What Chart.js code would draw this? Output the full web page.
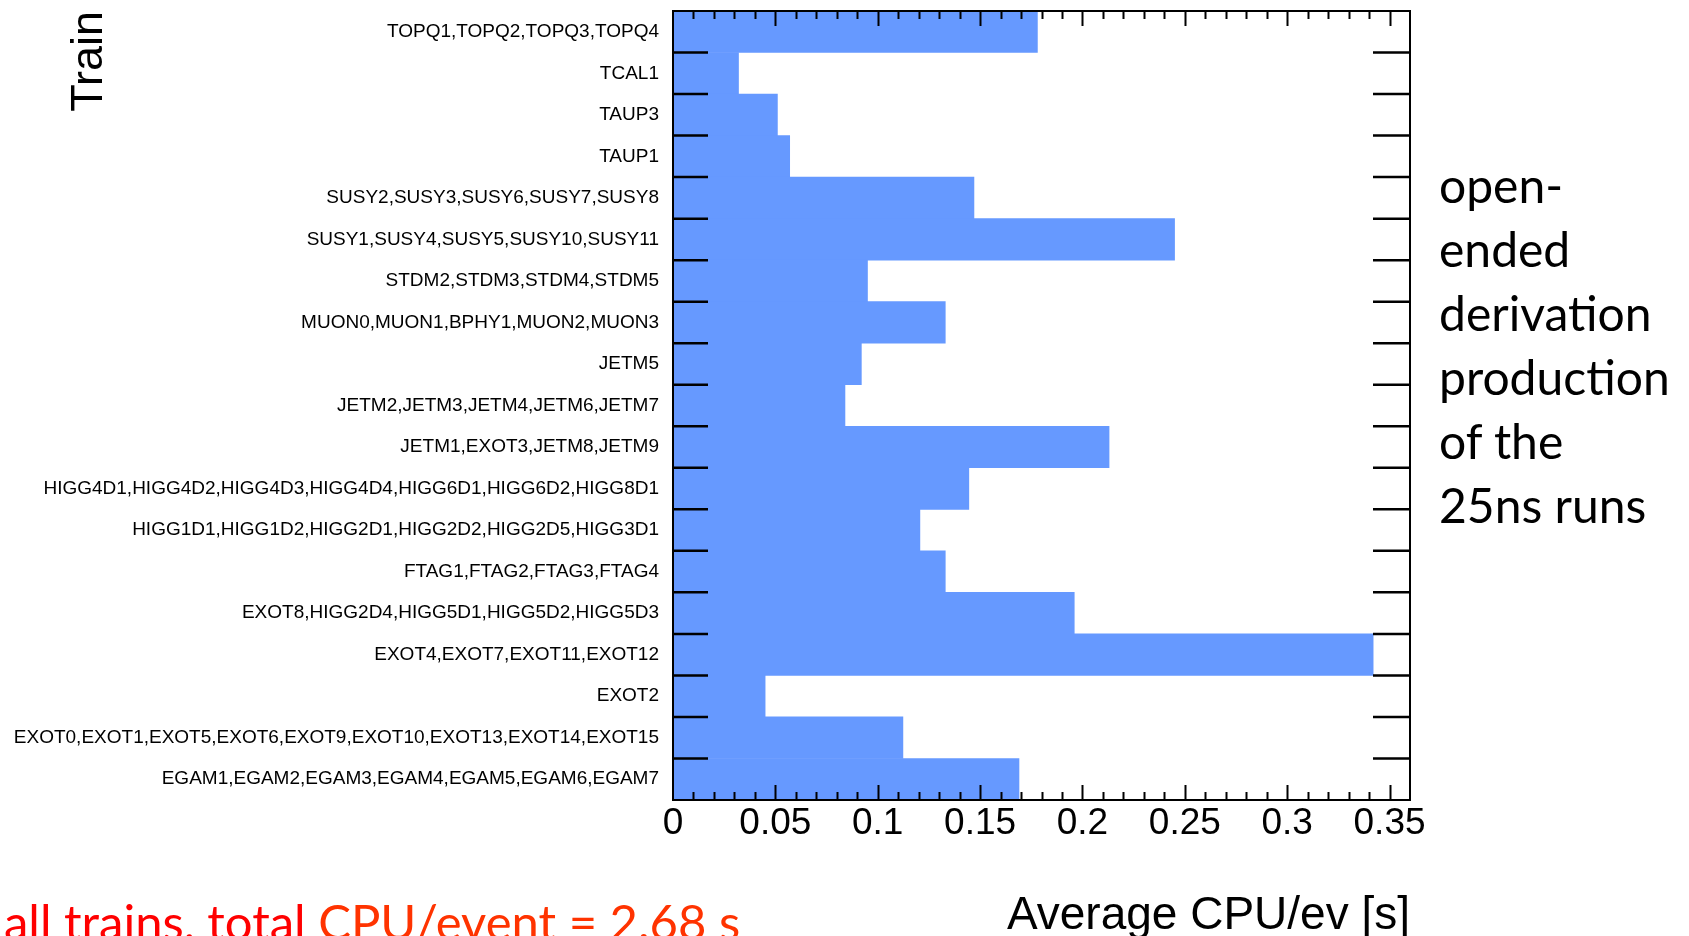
<!DOCTYPE html>
<html>
<head>
<meta charset="utf-8">
<script src="https://cdn.jsdelivr.net/npm/chart.js@4.4.1/dist/chart.umd.min.js"></script>
<style>
  html, body { margin: 0; padding: 0; background: #fff; overflow: hidden; }
  #wrap { position: relative; width: 1689px; height: 936px; }
  #note {
    position: absolute; left: 1439px; top: 153px;
    font-family: Lato, "Open Sans", sans-serif; font-size: 48px; line-height: 64px;
    color: #000; white-space: nowrap;
  }
  #total {
    position: absolute; left: 4px; top: 897px;
    font-family: Lato, "Open Sans", sans-serif; font-size: 49px; line-height: 49px;
    color: #ff0000; white-space: nowrap;
  }
  #total span { color: #ff3300; }
</style>
</head>
<body>
<div id="wrap">
  <canvas id="cpu"></canvas>
  <div id="note">open-<br>ended<br>derivation<br>production<br>of the<br>25ns runs</div>
  <div id="total">all trains, total <span>CPU/event = 2.68 s</span></div>
</div>
<script>
// trains, top to bottom as drawn
var trains = [
  'TOPQ1,TOPQ2,TOPQ3,TOPQ4',
  'TCAL1',
  'TAUP3',
  'TAUP1',
  'SUSY2,SUSY3,SUSY6,SUSY7,SUSY8',
  'SUSY1,SUSY4,SUSY5,SUSY10,SUSY11',
  'STDM2,STDM3,STDM4,STDM5',
  'MUON0,MUON1,BPHY1,MUON2,MUON3',
  'JETM5',
  'JETM2,JETM3,JETM4,JETM6,JETM7',
  'JETM1,EXOT3,JETM8,JETM9',
  'HIGG4D1,HIGG4D2,HIGG4D3,HIGG4D4,HIGG6D1,HIGG6D2,HIGG8D1',
  'HIGG1D1,HIGG1D2,HIGG2D1,HIGG2D2,HIGG2D5,HIGG3D1',
  'FTAG1,FTAG2,FTAG3,FTAG4',
  'EXOT8,HIGG2D4,HIGG5D1,HIGG5D2,HIGG5D3',
  'EXOT4,EXOT7,EXOT11,EXOT12',
  'EXOT2',
  'EXOT0,EXOT1,EXOT5,EXOT6,EXOT9,EXOT10,EXOT13,EXOT14,EXOT15',
  'EGAM1,EGAM2,EGAM3,EGAM4,EGAM5,EGAM6,EGAM7'
];

// average CPU per event [s]
var cpuPerEvent = [
  0.178, 0.032, 0.051, 0.057, 0.147, 0.245, 0.095, 0.133, 0.092, 0.084,
  0.213, 0.1445, 0.1206, 0.133, 0.196, 0.342, 0.045, 0.1123, 0.169
];

// x axis
var xMin = 0;
var xMax = 0.36;
var xTickValues = [0, 0.05, 0.1, 0.15, 0.2, 0.25, 0.3, 0.35];
var xTickLabels = ['0', '0.05', '0.1', '0.15', '0.2', '0.25', '0.3', '0.35'];
var xMinorStep = 0.01;

// root-style frame with inward ticks
var frameTicks = {
  id: 'frameTicks',
  afterDatasetsDraw: function(chart) {
    var ctx = chart.ctx;
    var a = chart.chartArea;
    var xs = chart.scales.x;
    var ys = chart.scales.y;
    ctx.save();
    ctx.strokeStyle = '#000';

    // x ticks, top and bottom (long ones every 5th)
    ctx.lineWidth = 2;
    var n = Math.round((xMax - xMin) / xMinorStep);
    for (var k = 1; k < n; k++) {
      var px = Math.round(xs.getPixelForValue(xMin + k * xMinorStep)) + 0.5;
      var len = (k % 5 === 0) ? 15 : 8;
      ctx.beginPath();
      ctx.moveTo(px, a.bottom);
      ctx.lineTo(px, a.bottom - len);
      ctx.moveTo(px, a.top);
      ctx.lineTo(px, a.top + len);
      ctx.stroke();
    }

    // y ticks at the bin edges, left and right
    ctx.lineWidth = 2.5;
    for (var i = 1; i < trains.length; i++) {
      var py = ys.getPixelForValue(i - 0.5);
      ctx.beginPath();
      ctx.moveTo(a.left, py);
      ctx.lineTo(a.left + 35, py);
      ctx.moveTo(a.right - 37, py);
      ctx.lineTo(a.right, py);
      ctx.stroke();
    }

    ctx.lineWidth = 2;
    ctx.strokeRect(a.left, a.top, a.right - a.left, a.bottom - a.top);
    ctx.restore();
  }
};

Chart.defaults.font.family = '"Liberation Sans", Arial, sans-serif';
Chart.defaults.color = '#000';

var canvas = document.getElementById('cpu');
canvas.width = 1689;
canvas.height = 936;

new Chart(canvas, {
  type: 'bar',
  data: {
    labels: trains,
    datasets: [{
      data: cpuPerEvent,
      backgroundColor: '#6699ff',
      borderWidth: 0,
      barPercentage: 1,
      categoryPercentage: 1
    }]
  },
  options: {
    indexAxis: 'y',
    responsive: false,
    animation: false,
    layout: { padding: { top: 11, right: 279, bottom: 0, left: 0 } },
    plugins: { legend: { display: false }, tooltip: { enabled: false } },
    scales: {
      x: {
        min: xMin,
        max: xMax,
        grid: { display: false, drawTicks: false },
        border: { display: false },
        afterBuildTicks: function(scale) {
          scale.ticks = xTickValues.map(function(v) { return { value: v }; });
        },
        ticks: {
          padding: 2,
          autoSkip: false,
          maxRotation: 0,
          font: { size: 37 },
          callback: function(v, i) { return xTickLabels[i]; }
        },
        title: {
          display: true,
          text: 'Average CPU/ev [s]',
          align: 'end',
          font: { size: 46, lineHeight: 1 },
          padding: { top: 0, bottom: -3 }
        },
        afterFit: function(scale) {
          scale.height = 136;
          scale.paddingRight = 0;
        }
      },
      y: {
        grid: { display: false, drawTicks: false },
        border: { display: false },
        ticks: {
          autoSkip: false,
          padding: 14,
          font: { size: 19 }
        },
        title: {
          display: true,
          text: 'Train',
          align: 'end',
          font: { size: 45, lineHeight: 1 },
          padding: { top: 67, bottom: 0 }
        },
        afterFit: function(scale) {
          scale.width = 673;
          scale.paddingTop = 0;
          scale.paddingBottom = 0;
        }
      }
    }
  },
  plugins: [frameTicks]
});
</script>
</body>
</html>
